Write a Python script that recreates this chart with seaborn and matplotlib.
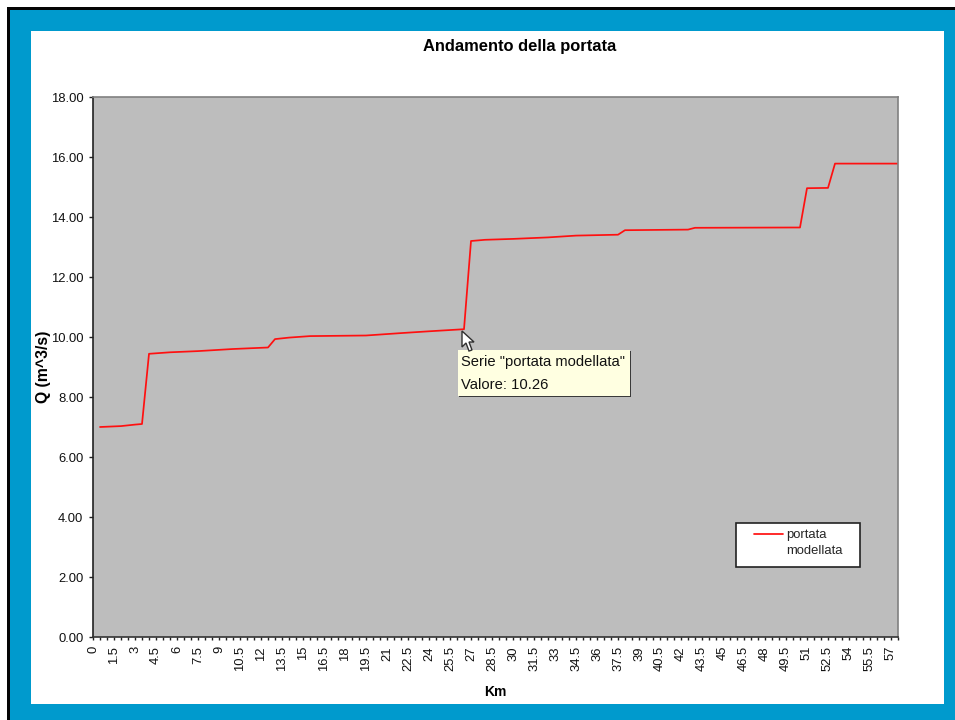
import matplotlib
matplotlib.use("Agg")
import matplotlib.pyplot as plt
from matplotlib.lines import Line2D
from matplotlib.patches import Rectangle, Polygon
from matplotlib.transforms import Affine2D
import numpy as np
import pandas as pd
import seaborn as sns

km = [0.5, 2.0, 3.0, 3.5, 4.0, 5.5, 7.5, 10.0, 12.5, 13.0, 14.0, 15.5, 19.5, 22.0, 24.0, 26.5, 27.0,
      28.0, 30.0, 32.5, 34.5, 37.5, 38.0, 42.5, 43.0, 50.0, 50.5, 51.0, 52.5, 53.0, 57.5]
portata = [7.00, 7.03, 7.08, 7.10, 9.44, 9.49, 9.53, 9.60, 9.65, 9.93, 9.98, 10.03, 10.05, 10.13, 10.19, 10.26, 13.20,
           13.24, 13.27, 13.32, 13.38, 13.41, 13.56, 13.58, 13.64, 13.65, 13.65, 14.96, 14.97, 15.78, 15.78]
y_ticks = [0, 2, 4, 6, 8, 10, 12, 14, 16, 18]
title = "Andamento della portata"
x_title = "Km"
y_title = "Q (m^3/s)"
series_label = ["portata", "modellata"]
tip_lines = ['Serie "portata modellata"', "Valore: 10.26"]

FONT = "Liberation Sans"
SMALL = 9.4
W, H = 955, 720

sns.set_theme(style="white", rc={"font.family": FONT})
plt.rcParams["font.family"] = [FONT, "DejaVu Sans"]

fig = plt.figure(figsize=(W / 100, H / 100), dpi=100, facecolor="white")

# Pixel coordinates measured from the top-left corner of the canvas
px = Affine2D().scale(1, -1).translate(0, H)


def box(x0, y0, x1, y1, **kw):
    fig.add_artist(Rectangle((x0, y0), x1 - x0, y1 - y0, transform=px, linewidth=0, **kw))


# Window frame around the chart area
box(7, 7, W, H, facecolor="#050505")
box(10, 10, W, H, facecolor="#009ACD")
box(31, 31, 944, 704, facecolor="white")

LEFT, RIGHT, TOP, BOTTOM = 93, 898, 97, 637
ax = fig.add_axes([LEFT / W, 1 - BOTTOM / H, (RIGHT - LEFT) / W, (BOTTOM - TOP) / H], facecolor="#BDBDBD")
ax.set_zorder(2)

frame = pd.DataFrame({"km": km, "portata": portata})
sns.lineplot(data=frame, x="km", y="portata", color="#FF1010", linewidth=1.25,
             ax=ax, errorbar=None, estimator=None, legend=False)

ax.set_xlim(0, 57.5)
ax.set_ylim(0, 18)
ax.set_yticks(y_ticks)
ax.set_yticklabels([f"{v:.2f}" for v in y_ticks], color="#111111", fontsize=SMALL)
major = np.arange(0, 57.5, 1.5)
ax.set_xticks(major)
ax.set_xticklabels([f"{v:g}" for v in major], rotation=90, color="#111111", fontsize=SMALL)
ax.set_xticks(np.arange(0, 57.6, 0.5), minor=True)
ax.tick_params(axis="y", which="major", left=True, length=3, width=1, color="#222222", pad=4)
ax.tick_params(axis="x", which="both", bottom=True, length=2.5, width=1, color="#222222", pad=4)
ax.set_xlabel("")
ax.set_ylabel("")

for side, shade in (("left", "#222222"), ("bottom", "#333333"), ("top", "#808080"), ("right", "#808080")):
    ax.spines[side].set_visible(True)
    ax.spines[side].set_color(shade)
    ax.spines[side].set_linewidth(1.2)

fig.text(520 / W, 1 - 46 / H, title, ha="center", va="center", fontsize=11.9,
         fontweight="bold", color="black", zorder=5)
fig.text(495.5 / W, 1 - 692.5 / H, x_title, ha="center", va="center", fontsize=10,
         fontweight="bold", color="black", zorder=5)
fig.text(43.5 / W, 1 - 367 / H, y_title, ha="center", va="center", rotation=90, fontsize=11.3,
         fontweight="bold", color="black", zorder=5)

# Legend: white box with one sample line beside a two-line label
ax.add_patch(Rectangle((736, 523), 124, 44, transform=px, facecolor="white", edgecolor="#222222",
                       linewidth=1.2, zorder=4, clip_on=False))
handles = [Line2D([], [], color="#FF1010", linewidth=1.25), Line2D([], [], color="none")]
leg = ax.legend(handles, series_label, loc="upper left", frameon=False, prop={"size": SMALL},
                bbox_to_anchor=((754 - LEFT) / (RIGHT - LEFT), (BOTTOM - 529) / (BOTTOM - TOP)),
                borderaxespad=0, borderpad=0, handlelength=29 / (SMALL * 100 / 72),
                handletextpad=0.25, labelspacing=0.26)
leg.set_zorder(5)

# Hover tooltip with its shadow, and the mouse pointer above it
fig.add_artist(Rectangle((459, 351), 172, 46, transform=px, linewidth=0, facecolor="#3A3A3A", zorder=6))
fig.add_artist(Rectangle((458, 350), 172, 46, transform=px, linewidth=0, facecolor="#FFFFE1", zorder=7))
fig.text(461 / W, 1 - 362 / H, tip_lines[0], ha="left", va="center", fontsize=10.6, color="#111111", zorder=8)
fig.text(461 / W, 1 - 385 / H, tip_lines[1], ha="left", va="center", fontsize=10.6, color="#111111", zorder=8)

pointer = np.array([(0, 0), (0, 16), (4, 12), (7, 20), (10, 19), (7, 11), (12, 11)], dtype=float)
fig.add_artist(Polygon(pointer + (462, 331), closed=True, transform=px, facecolor="white",
                       edgecolor="#303030", linewidth=1, zorder=9))

fig.savefig("out.png", dpi=100)
